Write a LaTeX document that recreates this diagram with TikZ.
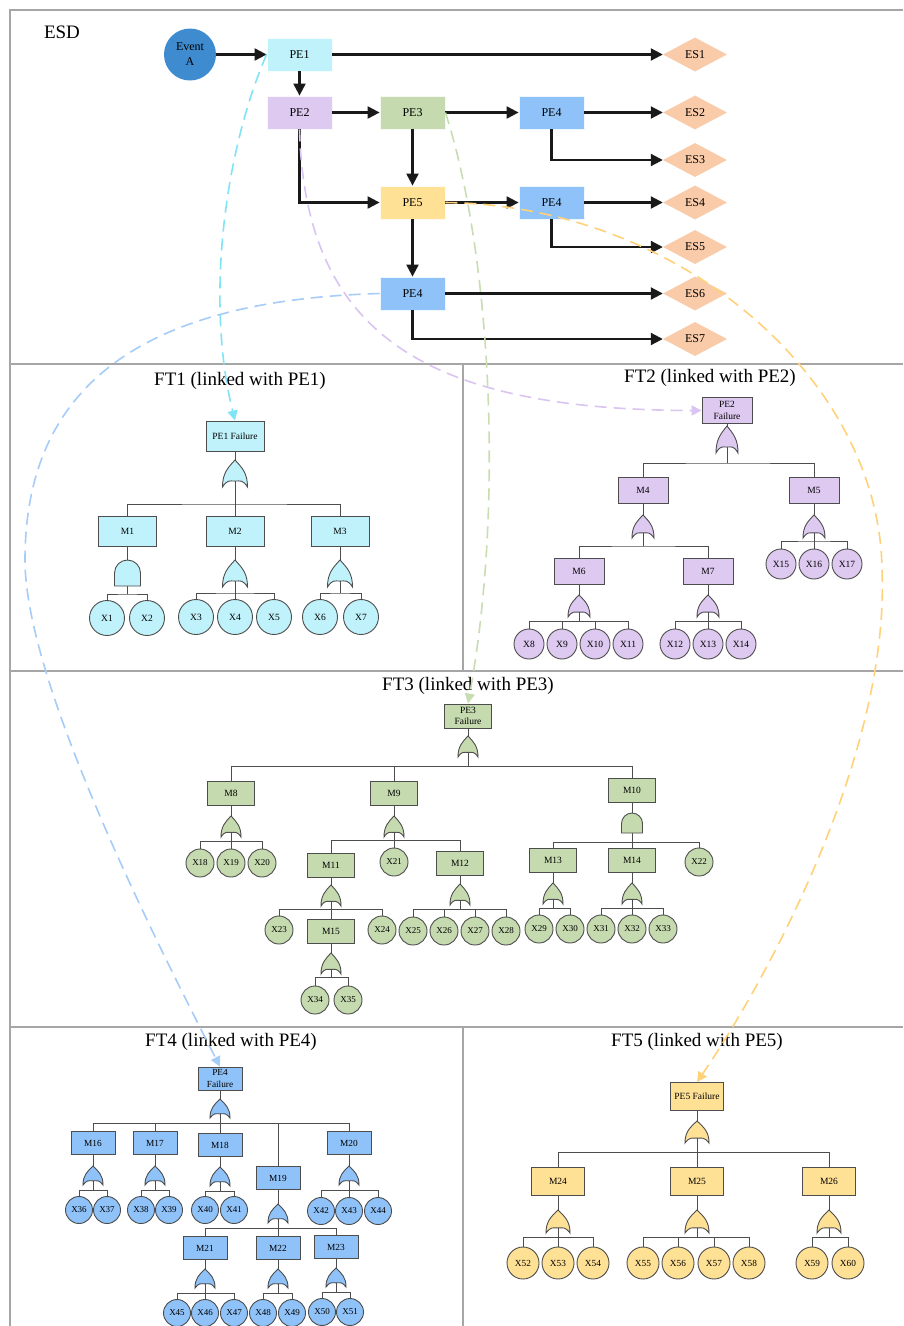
\documentclass[tikz,border=0pt]{standalone}
\usepackage{fontspec}
\setmainfont{Liberation Serif}
\usetikzlibrary{arrows.meta,shapes.geometric}

\definecolor{frameC}{HTML}{A6A6A6}
\definecolor{wireC}{HTML}{4D4D4D}
\definecolor{evC}{HTML}{3F8BCF}
\definecolor{esC}{HTML}{F9CBA9}
\definecolor{cyF}{HTML}{C0F2FB}
\definecolor{puF}{HTML}{DEC9F1}
\definecolor{grF}{HTML}{C5DAAF}
\definecolor{blF}{HTML}{8FC2F8}
\definecolor{yeF}{HTML}{FFE196}
\definecolor{cyL}{HTML}{7FE4F6}
\definecolor{puL}{HTML}{D9C4F2}
\definecolor{grL}{HTML}{C8DDB2}
\definecolor{blL}{HTML}{A6CCF8}
\definecolor{yeL}{HTML}{FFD27A}

% OR gate: apex x, apex y, half width, height, fill
\newcommand{\fgOr}[5]{%
  \filldraw[gateline, fill=#5] (#1,#2)
    .. controls +({0.6*#3},{0.3*#4}) and +(0,{-0.5*#4}) .. ({#1+#3},{#2+#4})
    .. controls +({-0.4*#3},{-0.28*#4}) and +({0.45*#3},0) .. (#1,{#2+0.78*#4})
    .. controls +({-0.45*#3},0) and +({0.4*#3},{-0.28*#4}) .. ({#1-#3},{#2+#4})
    .. controls +(0,{-0.5*#4}) and +({-0.6*#3},{0.3*#4}) .. (#1,#2) -- cycle;}
% AND gate: top x, top y, half width, height, fill
\newcommand{\fgAnd}[5]{%
  \filldraw[gateline, fill=#5] ({#1-#3},{#2+#4}) -- ({#1-#3},{#2+#3})
    .. controls ({#1-#3},{#2+0.45*#3}) and ({#1-0.55*#3},#2) .. (#1,#2)
    .. controls ({#1+0.55*#3},#2) and ({#1+#3},{#2+0.45*#3}) .. ({#1+#3},{#2+#3})
    -- ({#1+#3},{#2+#4}) -- cycle;}
% gate under a node: type, parent, x, gate top, bus y, half width, height, fill
\newcommand{\fgate}[8]{%
  \coordinate (#2-bus) at (#3,#5);
  \draw[wire] (#2.south) -- (#2-bus);
  \csname fg#1\endcsname{#3}{#4}{#6}{#7}{#8}}

\tikzset{
  frame/.style={draw=frameC, line width=1.1pt},
  esdbox/.style={rectangle, fill=#1, draw=white!85!#1, line width=0.8pt,
    minimum width=65pt, minimum height=33pt, inner sep=0pt,
    font=\fontsize{12}{14}\selectfont},
  esnode/.style={diamond, fill=esC, aspect=1.9, minimum width=64pt, minimum height=34pt,
    inner sep=0pt, font=\fontsize{12}{14}\selectfont},
  flow/.style={draw=black!90, line width=2.1pt, -{Triangle[length=12pt,width=12pt]}},
  link/.style={draw=#1, line width=1.6pt, dash pattern=on 12pt off 7pt,
    -{Triangle[length=10pt,width=10pt,fill=#1]}},
  wire/.style={draw=wireC, line width=0.9pt},
  gateline/.style={draw=wireC, line width=0.9pt},
  ftbox/.style={rectangle, draw=wireC, line width=0.9pt, fill=#1, inner sep=1pt, align=center},
  ftev/.style={circle, draw=wireC, line width=0.9pt, fill=#1, inner sep=0pt},
  title/.style={font=\fontsize{19}{22}\selectfont},
  sa/.style={minimum width=58pt, minimum height=30pt, font=\fontsize{9.5}{11}\selectfont},
  ca/.style={minimum size=35pt, font=\fontsize{9.5}{11}\selectfont},
  sb/.style={minimum width=50pt, minimum height=26pt, font=\fontsize{9.5}{12}\selectfont},
  cb/.style={minimum size=30pt, font=\fontsize{9.5}{11}\selectfont},
  sc/.style={minimum width=47pt, minimum height=24pt, font=\fontsize{9.5}{11.3}\selectfont},
  cc/.style={minimum size=28pt, font=\fontsize{9}{11}\selectfont},
  sd/.style={minimum width=44pt, minimum height=23pt, font=\fontsize{9.3}{11.5}\selectfont},
  cd/.style={minimum size=27pt, font=\fontsize{9}{11}\selectfont},
  se/.style={minimum width=53pt, minimum height=28pt, font=\fontsize{9.5}{11}\selectfont},
  ce/.style={minimum size=32pt, font=\fontsize{9.3}{11}\selectfont},
}

\begin{document}
\begin{tikzpicture}[x=1pt,y=-1pt]
\useasboundingbox (0,0) rectangle (903,1326);
\fill[white] (0,0) rectangle (903,1326);

% panel frame
\draw[frame] (903,10) -- (10,10) -- (10,1326);
\draw[frame] (10,364) -- (903,364);
\draw[frame] (10,671) -- (903,671);
\draw[frame] (10,1027) -- (903,1027);
\draw[frame] (463,364) -- (463,671);
\draw[frame] (463,1027) -- (463,1326);

% ================= event sequence diagram =================
\node[title] (esdT) at (62,32) {ESD};
\node[circle, fill=evC, minimum size=52pt, inner sep=0pt, align=center,
      font=\fontsize{12}{15}\selectfont] (EvA) at (190,54.5) {Event\\A};
\node[esdbox=cyF] (PE1) at (299.5,54.5) {PE1};
\node[esdbox=puF] (PE2) at (299.5,112.5) {PE2};
\node[esdbox=grF] (PE3) at (412.5,112.5) {PE3};
\node[esdbox=blF] (PE4a) at (551.5,112.5) {PE4};
\node[esdbox=yeF] (PE5) at (412.5,202.5) {PE5};
\node[esdbox=blF] (PE4b) at (551.5,202.5) {PE4};
\node[esdbox=blF] (PE4c) at (412.5,293.5) {PE4};
\node[esnode] (ES1) at (695,54.5) {ES1};
\node[esnode] (ES2) at (695,112.5) {ES2};
\node[esnode] (ES3) at (695,160) {ES3};
\node[esnode] (ES4) at (695,202.5) {ES4};
\node[esnode] (ES5) at (695,247) {ES5};
\node[esnode] (ES6) at (695,293.5) {ES6};
\node[esnode] (ES7) at (695,339) {ES7};

\draw[flow] (EvA.east) -- (PE1.west);
\draw[flow] (PE1.east) -- (ES1.west);
\draw[flow] (PE1.south) -- (PE2.north);
\draw[flow] (PE2.east) -- (PE3.west);
\draw[flow] (PE3.east) -- (PE4a.west);
\draw[flow] (PE4a.east) -- (ES2.west);
\draw[flow] (PE4a.south) |- (ES3.west);
\draw[flow] (PE3.south) -- (PE5.north);
\draw[flow] (PE2.south) |- (PE5.west);
\draw[flow] (PE5.east) -- (PE4b.west);
\draw[flow] (PE4b.east) -- (ES4.west);
\draw[flow] (PE4b.south) |- (ES5.west);
\draw[flow] (PE5.south) -- (PE4c.north);
\draw[flow] (PE4c.east) -- (ES6.west);
\draw[flow] (PE4c.south) |- (ES7.west);

% ================= FT1 =================
\node[title] (ttl1) at (240,381) {FT1 (linked with PE1)};
\node[ftbox=cyF, sa] (PE1F) at (235,436) {PE1 Failure};
\node[ftbox=cyF, sa] (M1) at (127.5,531) {M1};
\node[ftbox=cyF, sa] (M2) at (235,531) {M2};
\node[ftbox=cyF, sa] (M3) at (340,531) {M3};
\node[ftev=cyF, ca] (X1) at (107,618) {X1};
\node[ftev=cyF, ca] (X2) at (147,618) {X2};
\node[ftev=cyF, ca] (X3) at (196,617) {X3};
\node[ftev=cyF, ca] (X4) at (235,617) {X4};
\node[ftev=cyF, ca] (X5) at (274,617) {X5};
\node[ftev=cyF, ca] (X6) at (320,617) {X6};
\node[ftev=cyF, ca] (X7) at (361,617) {X7};

\fgate{Or}{PE1F}{235}{460}{504}{12.5}{27}{cyF}
\draw[wire] (M1.north) |- (PE1F-bus) -| (M3.north);
\draw[wire] (M2.north) -- (PE1F-bus);
\fgate{And}{M1}{127.5}{560}{594}{13}{26}{cyF}
\draw[wire] (X1.north) |- (M1-bus) -| (X2.north);
\fgate{Or}{M2}{235}{560}{593}{12.5}{27}{cyF}
\draw[wire] (X3.north) |- (M2-bus) -| (X5.north);
\draw[wire] (X4.north) -- (M2-bus);
\fgate{Or}{M3}{340}{560}{593}{12.5}{27}{cyF}
\draw[wire] (X6.north) |- (M3-bus) -| (X7.north);

% ================= FT2 =================
\node[title] (ttl2) at (710,378) {FT2 (linked with PE2)};
\node[ftbox=puF, sb] (PE2F) at (727,410.5) {PE2\\Failure};
\node[ftbox=puF, sb] (M4) at (643,490) {M4};
\node[ftbox=puF, sb] (M5) at (814,490) {M5};
\node[ftbox=puF, sb] (M6) at (579,571) {M6};
\node[ftbox=puF, sb] (M7) at (708,571) {M7};
\node[ftev=puF, cb] (X8) at (529,644) {X8};
\node[ftev=puF, cb] (X9) at (562,644) {X9};
\node[ftev=puF, cb] (X10) at (595,644) {X10};
\node[ftev=puF, cb] (X11) at (628,644) {X11};
\node[ftev=puF, cb] (X12) at (675,644) {X12};
\node[ftev=puF, cb] (X13) at (708,644) {X13};
\node[ftev=puF, cb] (X14) at (741,644) {X14};
\node[ftev=puF, cb] (X15) at (781,564) {X15};
\node[ftev=puF, cb] (X16) at (814,564) {X16};
\node[ftev=puF, cb] (X17) at (847,564) {X17};

\fgate{Or}{PE2F}{727}{426}{463}{11}{27}{puF}
\draw[wire] (M4.north) |- (PE2F-bus) -| (M5.north);
\fgate{Or}{M4}{643}{515}{546}{11}{23}{puF}
\draw[wire] (M6.north) |- (M4-bus) -| (M7.north);
\fgate{Or}{M6}{579}{595}{621}{11}{22}{puF}
\draw[wire] (X8.north) |- (M6-bus) -| (X11.north);
\draw[wire] (X9.north) -- (X9.north |- M6-bus);
\draw[wire] (X10.north) -- (X10.north |- M6-bus);
\fgate{Or}{M7}{708}{595}{621}{11}{22}{puF}
\draw[wire] (X12.north) |- (M7-bus) -| (X14.north);
\draw[wire] (X13.north) -- (M7-bus);
\fgate{Or}{M5}{814}{515}{541}{11}{23}{puF}
\draw[wire] (X15.north) |- (M5-bus) -| (X17.north);
\draw[wire] (X16.north) -- (M5-bus);

% ================= FT3 =================
\node[title] (ttl3) at (468,686) {FT3 (linked with PE3)};
\node[ftbox=grF, sc] (PE3F) at (468,716) {PE3\\Failure};
\node[ftbox=grF, sc] (M8) at (231,793) {M8};
\node[ftbox=grF, sc] (M9) at (394,793) {M9};
\node[ftbox=grF, sc] (M10) at (632,790) {M10};
\node[ftbox=grF, sc] (M11) at (331,865) {M11};
\node[ftbox=grF, sc] (M12) at (460,863) {M12};
\node[ftbox=grF, sc] (M13) at (553,860) {M13};
\node[ftbox=grF, sc] (M14) at (632,860) {M14};
\node[ftbox=grF, sc] (M15) at (331,931) {M15};
\node[ftev=grF, cc] (X18) at (200,863) {X18};
\node[ftev=grF, cc] (X19) at (231,863) {X19};
\node[ftev=grF, cc] (X20) at (262,863) {X20};
\node[ftev=grF, cc] (X21) at (394,862) {X21};
\node[ftev=grF, cc] (X22) at (699,862) {X22};
\node[ftev=grF, cc] (X23) at (279,930) {X23};
\node[ftev=grF, cc] (X24) at (382,930) {X24};
\node[ftev=grF, cc] (X25) at (413,931) {X25};
\node[ftev=grF, cc] (X26) at (444,931) {X26};
\node[ftev=grF, cc] (X27) at (475,931) {X27};
\node[ftev=grF, cc] (X28) at (506,931) {X28};
\node[ftev=grF, cc] (X29) at (539,929) {X29};
\node[ftev=grF, cc] (X30) at (570,929) {X30};
\node[ftev=grF, cc] (X31) at (601,929) {X31};
\node[ftev=grF, cc] (X32) at (632,929) {X32};
\node[ftev=grF, cc] (X33) at (663,929) {X33};
\node[ftev=grF, cc] (X34) at (315,1000) {X34};
\node[ftev=grF, cc] (X35) at (348,1000) {X35};

\fgate{Or}{PE3F}{468}{736}{766}{10}{21}{grF}
\draw[wire] (M8.north) |- (PE3F-bus) -| (M10.north);
\draw[wire] (M9.north) -- (M9.north |- PE3F-bus);
\fgate{Or}{M8}{231}{816}{841}{10}{21}{grF}
\draw[wire] (X18.north) |- (M8-bus) -| (X20.north);
\draw[wire] (X19.north) -- (M8-bus);
\fgate{Or}{M9}{394}{816}{840}{10}{21}{grF}
\draw[wire] (M11.north) |- (M9-bus) -| (M12.north);
\draw[wire] (X21.north) -- (M9-bus);
\fgate{Or}{M11}{331}{885}{909}{10}{21}{grF}
\draw[wire] (X23.north) |- (M11-bus) -| (X24.north);
\draw[wire] (M15.north) -- (M11-bus);
\fgate{Or}{M15}{331}{953}{977}{10}{21}{grF}
\draw[wire] (X34.north) |- (M15-bus) -| (X35.north);
\fgate{Or}{M12}{460}{884}{909}{10}{21}{grF}
\draw[wire] (X25.north) |- (M12-bus) -| (X28.north);
\draw[wire] (X26.north) -- (X26.north |- M12-bus);
\draw[wire] (X27.north) -- (X27.north |- M12-bus);
\fgate{And}{M10}{632}{813}{842}{10.5}{20}{grF}
\draw[wire] (M13.north) |- (M10-bus) -| (X22.north);
\draw[wire] (M14.north) -- (M10-bus);
\fgate{Or}{M13}{553}{883}{908}{10}{21}{grF}
\draw[wire] (X29.north) |- (M13-bus) -| (X30.north);
\fgate{Or}{M14}{632}{883}{908}{10}{21}{grF}
\draw[wire] (X31.north) |- (M14-bus) -| (X33.north);
\draw[wire] (X32.north) -- (M14-bus);

% ================= FT4 =================
\node[title] (ttl4) at (231,1042) {FT4 (linked with PE4)};
\node[ftbox=blF, sd] (PE4F) at (220,1078.5) {PE4\\Failure};
\node[ftbox=blF, sd] (M16) at (93,1143) {M16};
\node[ftbox=blF, sd] (M17) at (155,1143) {M17};
\node[ftbox=blF, sd] (M18) at (220,1145) {M18};
\node[ftbox=blF, sd] (M19) at (278,1178) {M19};
\node[ftbox=blF, sd] (M20) at (349,1143) {M20};
\node[ftbox=blF, sd] (M21) at (205,1248) {M21};
\node[ftbox=blF, sd] (M22) at (278,1248) {M22};
\node[ftbox=blF, sd] (M23) at (336,1247) {M23};
\node[ftev=blF, cd] (X36) at (79,1210) {X36};
\node[ftev=blF, cd] (X37) at (107,1210) {X37};
\node[ftev=blF, cd] (X38) at (141,1210) {X38};
\node[ftev=blF, cd] (X39) at (169,1210) {X39};
\node[ftev=blF, cd] (X40) at (205,1210) {X40};
\node[ftev=blF, cd] (X41) at (234,1210) {X41};
\node[ftev=blF, cd] (X42) at (321,1211) {X42};
\node[ftev=blF, cd] (X43) at (349,1211) {X43};
\node[ftev=blF, cd] (X44) at (378,1211) {X44};
\node[ftev=blF, cd] (X45) at (177,1313) {X45};
\node[ftev=blF, cd] (X46) at (205,1313) {X46};
\node[ftev=blF, cd] (X47) at (234,1313) {X47};
\node[ftev=blF, cd] (X48) at (263,1313) {X48};
\node[ftev=blF, cd] (X49) at (292,1313) {X49};
\node[ftev=blF, cd] (X50) at (322,1312) {X50};
\node[ftev=blF, cd] (X51) at (350,1312) {X51};

\fgate{Or}{PE4F}{220}{1099}{1123}{10}{19}{blF}
\draw[wire] (M16.north) |- (PE4F-bus) -| (M20.north);
\draw[wire] (M17.north) -- (M17.north |- PE4F-bus);
\draw[wire] (M18.north) -- (PE4F-bus);
\draw[wire] (M19.north) -- (M19.north |- PE4F-bus);
\fgate{Or}{M16}{93}{1166}{1190}{10}{19}{blF}
\draw[wire] (X36.north) |- (M16-bus) -| (X37.north);
\fgate{Or}{M17}{155}{1166}{1190}{10}{19}{blF}
\draw[wire] (X38.north) |- (M17-bus) -| (X39.north);
\fgate{Or}{M18}{220}{1167}{1191}{10}{19}{blF}
\draw[wire] (X40.north) |- (M18-bus) -| (X41.north);
\fgate{Or}{M20}{349}{1166}{1190}{10}{19}{blF}
\draw[wire] (X42.north) |- (M20-bus) -| (X44.north);
\draw[wire] (X43.north) -- (M20-bus);
\fgate{Or}{M19}{278}{1204}{1228}{10}{19}{blF}
\draw[wire] (M21.north) |- (M19-bus) -| (M23.north);
\draw[wire] (M22.north) -- (M19-bus);
\fgate{Or}{M21}{205}{1269}{1293}{10}{19}{blF}
\draw[wire] (X45.north) |- (M21-bus) -| (X47.north);
\draw[wire] (X46.north) -- (M21-bus);
\fgate{Or}{M22}{278}{1269}{1293}{10}{19}{blF}
\draw[wire] (X48.north) |- (M22-bus) -| (X49.north);
\fgate{Or}{M23}{336}{1268}{1292}{10}{19}{blF}
\draw[wire] (X50.north) |- (M23-bus) -| (X51.north);

% ================= FT5 =================
\node[title] (ttl5) at (697,1042) {FT5 (linked with PE5)};
\node[ftbox=yeF, se] (PE5F) at (697,1096.5) {PE5 Failure};
\node[ftbox=yeF, se] (M24) at (558,1181) {M24};
\node[ftbox=yeF, se] (M25) at (697,1181) {M25};
\node[ftbox=yeF, se] (M26) at (829,1181) {M26};
\node[ftev=yeF, ce] (X52) at (523,1263) {X52};
\node[ftev=yeF, ce] (X53) at (558,1263) {X53};
\node[ftev=yeF, ce] (X54) at (593,1263) {X54};
\node[ftev=yeF, ce] (X55) at (643,1263) {X55};
\node[ftev=yeF, ce] (X56) at (678,1263) {X56};
\node[ftev=yeF, ce] (X57) at (714,1263) {X57};
\node[ftev=yeF, ce] (X58) at (749,1263) {X58};
\node[ftev=yeF, ce] (X59) at (812,1263) {X59};
\node[ftev=yeF, ce] (X60) at (848,1263) {X60};

\fgate{Or}{PE5F}{697}{1121}{1152}{12}{22}{yeF}
\draw[wire] (M24.north) |- (PE5F-bus) -| (M26.north);
\draw[wire] (M25.north) -- (PE5F-bus);
\fgate{Or}{M24}{558}{1210}{1237}{12}{23}{yeF}
\draw[wire] (X52.north) |- (M24-bus) -| (X54.north);
\draw[wire] (X53.north) -- (M24-bus);
\fgate{Or}{M25}{697}{1210}{1237}{12}{23}{yeF}
\draw[wire] (X55.north) |- (M25-bus) -| (X58.north);
\draw[wire] (X56.north) -- (X56.north |- M25-bus);
\draw[wire] (X57.north) -- (X57.north |- M25-bus);
\fgate{Or}{M26}{829}{1210}{1237}{12}{23}{yeF}
\draw[wire] (X59.north) |- (M26-bus) -| (X60.north);

% ================= links from pivotal events to their fault trees =================
\draw[link=cyL] (PE1.west) .. controls (225,150) and (205,300) .. (PE1F.north);
\draw[link=puL] (PE2.south) .. controls (305,330) and (420,410) .. (PE2F.west);
\draw[link=grL] (PE3.east) .. controls (490,250) and (505,500) .. (PE3F.north);
\draw[link=yeL] (PE5.east) .. controls (680,205) and (880,380) .. (882,570)
                .. controls (890,760) and (760,990) .. (PE5F.north);
\draw[link=blL] (PE4c.west) .. controls (150,300) and (25,380) .. (25,560)
                .. controls (25,680) and (150,930) .. (PE4F.north);
\end{tikzpicture}
\end{document}
